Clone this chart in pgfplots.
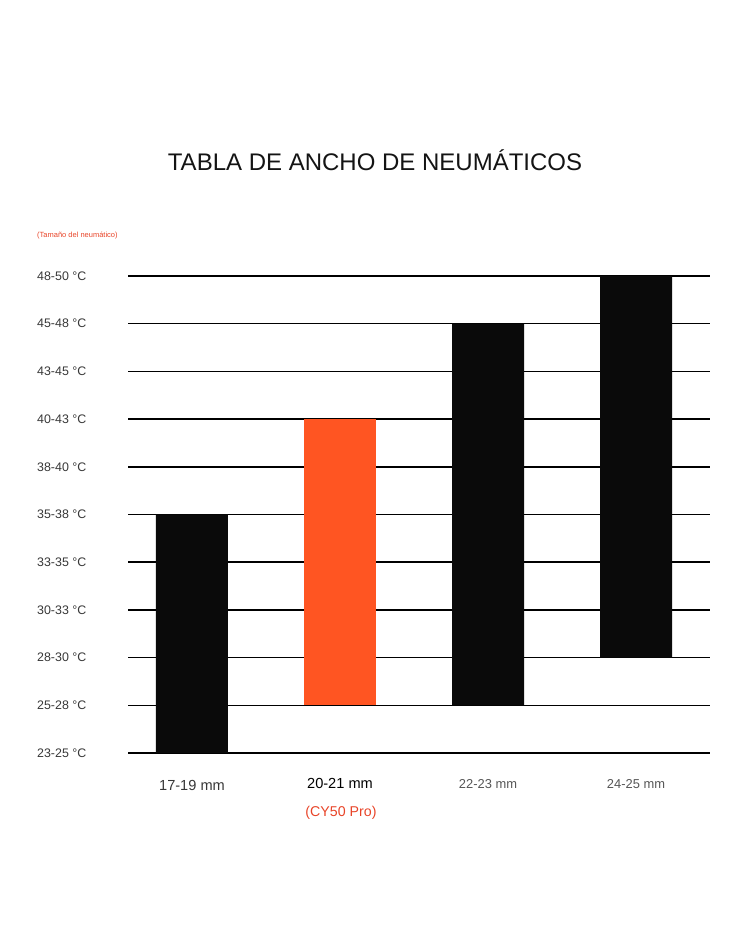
\documentclass[border=0pt]{standalone}
\usepackage{fontspec}
\setmainfont{Liberation Sans}
\usepackage{pgfplots}
\pgfplotsset{compat=1.18}
\definecolor{tireorange}{RGB}{255,85,34}
\definecolor{labelred}{RGB}{232,68,40}
\definecolor{tickgray}{RGB}{55,55,55}
\definecolor{bar}{RGB}{10,10,10}

\begin{document}
\begin{tikzpicture}[x=1pt,y=1pt]
% page frame, 750 x 937
\path (0,0) rectangle (750,937);
\node[font=\fontsize{24}{28}\selectfont, text=black!92] at (375,777) {TABLA DE ANCHO DE NEUMÁTICOS};
\node[anchor=west, inner sep=0, font=\fontsize{7.5}{9}\selectfont, text=labelred] at (37,701) {(Tamaño del neumático)};
\node[font=\fontsize{14.2}{16}\selectfont, text=labelred] at (341,124) {(CY50 Pro)};

\begin{axis}[
    at={(128pt,184pt)}, anchor=south west,
    scale only axis, width=582pt, height=477pt,
    xmin=-0.4324, xmax=3.5, ymin=0, ymax=10,
    ybar stacked, bar width=72pt,
    axis line style={draw=none}, major tick length=0pt,
    ymajorgrids, grid style={black, line width=1.5pt},
    ytick={0,...,10},
    yticklabels={23-25 °C,25-28 °C,28-30 °C,30-33 °C,33-35 °C,35-38 °C,38-40 °C,40-43 °C,43-45 °C,45-48 °C,48-50 °C},
    yticklabel style={anchor=west, xshift=-91pt, inner sep=0pt, text=tickgray, font=\fontsize{12.4}{14}\selectfont},
    xtick={0,1,2,3},
    xticklabels={
      {\fontsize{14.6}{16}\selectfont\color{tickgray}17-19 mm},
      {\raisebox{3pt}{\fontsize{14.6}{16}\selectfont\color{black}20-21 mm}},
      {\raisebox{2.4pt}{\fontsize{12.9}{15}\selectfont\color{tickgray!85}22-23 mm}},
      {\raisebox{2.4pt}{\fontsize{12.9}{15}\selectfont\color{tickgray!85}24-25 mm}}},
    xticklabel style={anchor=base, yshift=-38pt, inner sep=0pt},
]
% invisible base of each floating bar
\addplot[draw=none, fill=none] coordinates {(0,0) (1,1) (2,1) (3,2)};
% black bars
\addplot[draw=none, fill=bar] coordinates {(0,5) (1,0) (2,8) (3,8)};
% orange bar (CY50 Pro)
\addplot[draw=none, fill=tireorange] coordinates {(0,0) (1,6) (2,0) (3,0)};
\end{axis}
\end{tikzpicture}
\end{document}
